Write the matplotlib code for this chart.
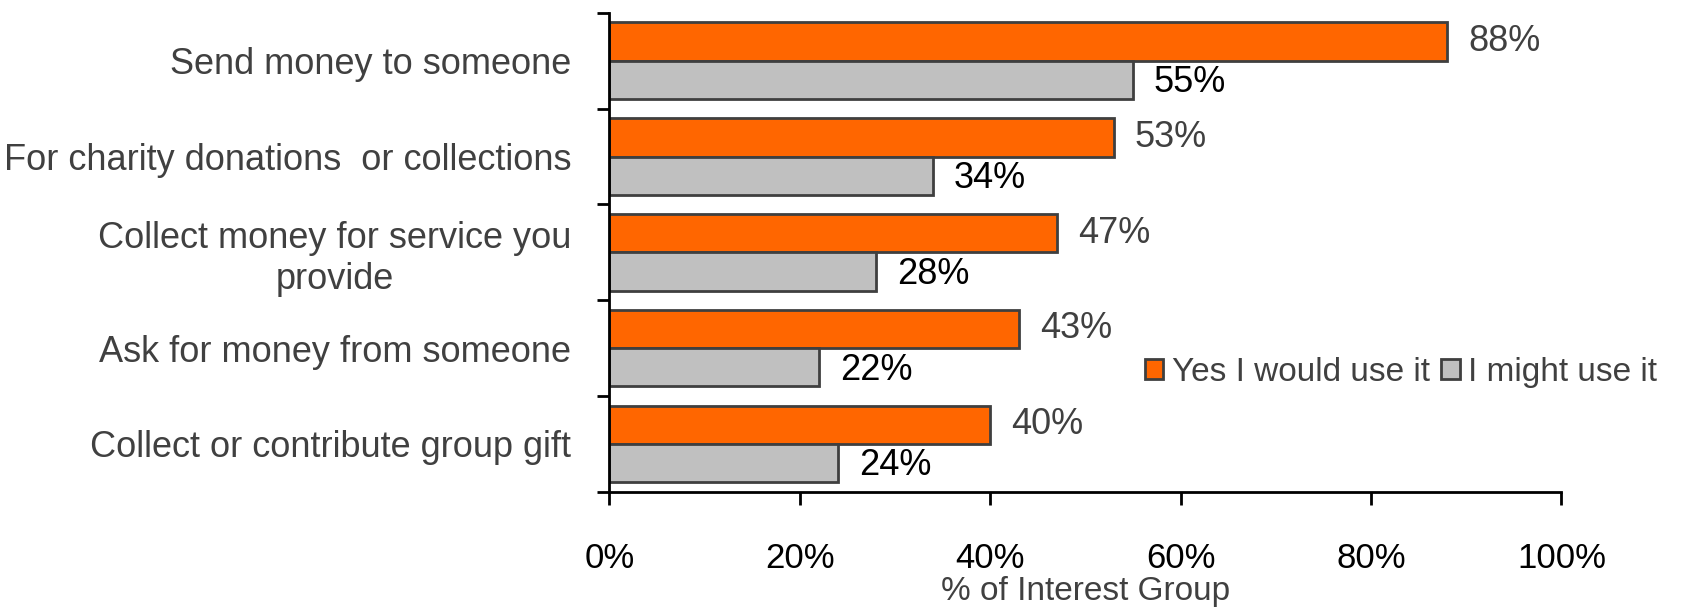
import matplotlib.pyplot as plt
import numpy as np
from matplotlib.ticker import FuncFormatter, FixedLocator

plt.rcParams['font.family'] = ['Liberation Sans', 'DejaVu Sans']

categories = ["Send money to someone",
              "For charity donations  or collections",
              "Collect money for service you\nprovide",
              "Ask for money from someone",
              "Collect or contribute group gift"]
yes_vals = [88, 53, 47, 43, 40]
might_vals = [55, 34, 28, 22, 24]
series_names = ["Yes I would use it", "I might use it"]
x_ticks = [0, 20, 40, 60, 80, 100]

ORANGE = "#FF6600"
GREY = "#C0C0C0"
EDGE = "#3F3F3F"
TXT = "#404040"

fig = plt.figure(figsize=(16.88, 6.11), dpi=100)
ax = fig.add_axes([0.361, 0.195, 0.564, 0.784])

y = np.arange(len(categories))
h = 0.4
b1 = ax.barh(y - h / 2, yes_vals, height=h, color=ORANGE, edgecolor=EDGE,
             linewidth=2, label=series_names[0])
b2 = ax.barh(y + h / 2, might_vals, height=h, color=GREY, edgecolor=EDGE,
             linewidth=2, label=series_names[1])

for bar, v in zip(b1, yes_vals):
    ax.text(bar.get_width() + 2.2, bar.get_y() + bar.get_height() / 2, f"{v}%",
            va="center", ha="left", fontsize=26, color=TXT)
for bar, v in zip(b2, might_vals):
    ax.text(bar.get_width() + 2.2, bar.get_y() + bar.get_height() / 2 + 0.03, f"{v}%",
            va="center", ha="left", fontsize=26, color="black")

ax.set_xlim(0, 100)
ax.set_ylim(len(categories) - 0.5, -0.5)
ax.set_xticks(x_ticks)
ax.xaxis.set_major_formatter(FuncFormatter(lambda v, p: f"{v:.0f}%"))
ax.tick_params(axis="x", direction="out", length=9, width=2, pad=27,
               labelsize=25, labelcolor="black", color="black")
ax.set_xlabel("% of Interest Group", fontsize=24, color=TXT, labelpad=1)

ax.set_yticks(y)
ax.set_yticklabels(categories, fontsize=26, color=TXT, ha="center", multialignment="center")
ax.tick_params(axis="y", which="major", length=0, pad=0)
ax.yaxis.set_minor_locator(FixedLocator(np.arange(-0.5, len(categories), 1.0)))
ax.tick_params(axis="y", which="minor", direction="out", length=9, width=2, color="black")

# right-align the wrapped labels as a block
for lbl in ax.get_yticklabels():
    lbl.set_ha("right")
    lbl.set_x(-0.04)
    lbl.set_transform(ax.get_yaxis_transform())

for s in ["top", "right"]:
    ax.spines[s].set_visible(False)
ax.spines["left"].set_linewidth(2)
ax.spines["bottom"].set_linewidth(2)

ax.legend(loc="center left", bbox_to_anchor=(0.531, 0.25), ncol=2, frameon=False,
          fontsize=24, handlelength=0.55, handleheight=0.55, handletextpad=0.25,
          columnspacing=0.35, labelcolor=TXT)

fig.savefig("out.png", dpi=100)
